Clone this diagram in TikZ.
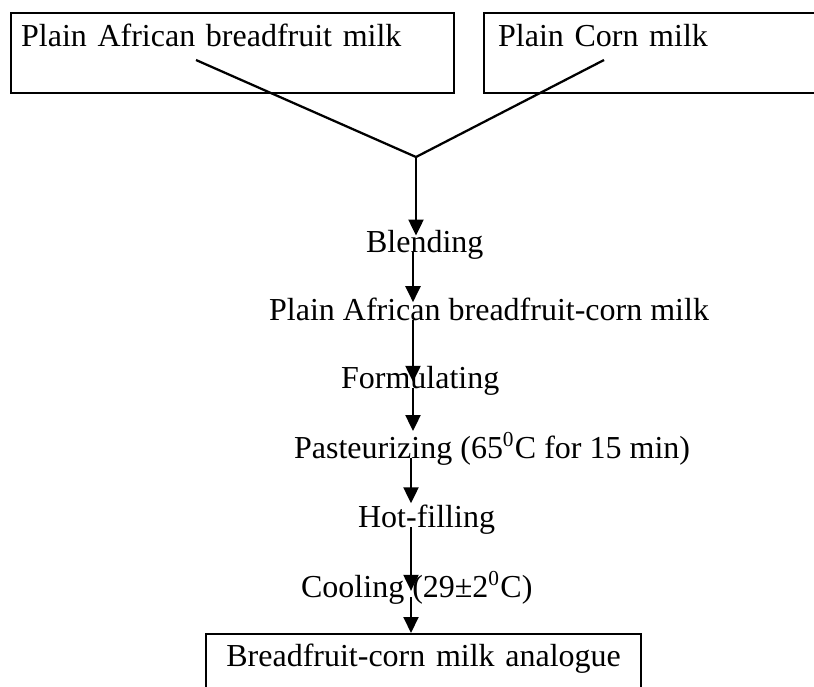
\documentclass[tikz,border=0pt]{standalone}
\usepackage{fontspec}
\setmainfont{Liberation Serif}
\usetikzlibrary{arrows.meta}
\tikzset{>={Triangle[length=6pt,width=5.6pt]}}

\begin{document}
\begin{tikzpicture}[x=0.375pt,y=-0.375pt,line width=0.85pt,
  font=\fontsize{12}{14}\selectfont,
  stage/.style={inner sep=0pt,anchor=base west},
  inbox/.style={draw,anchor=north west,align=left,inner ysep=0pt,text height=12.4pt,text depth=17.6pt}]
  \useasboundingbox (0,0) rectangle (814,686);
  \clip (0,0) rectangle (814,686);

  % Raw milks
  \node[inbox,inner xsep=3.75pt,text width=158.6pt] (fruitmilk) at (10,12) {Plain African breadfruit milk};
  \node[inbox,inner xsep=5.25pt,text width=140pt] (cornmilk) at (483,12) {Plain Corn milk};
  \coordinate (fromfruit) at (196,60);
  \coordinate (fromcorn) at (604,60);
  \coordinate (join) at (416,157);
  \coordinate (spine) at (413,0);
  \coordinate (lowspine) at (411,0);

  % Process steps
  \node[stage] (blend) at (365,252) {Blending};
  \node[stage] (mixmilk) at (268,320) {Plain African breadfruit-corn milk};
  \node[stage] (formulate) at (340,388) {Formulating};
  \node[stage] (pasteurize) at (293,458) {Pasteurizing (65\textsuperscript{0}C for 15 min)};
  \node[stage] (hotfill) at (357,527) {Hot-filling};
  \node[stage] (cool) at (300,597) {Cooling (29±2\textsuperscript{0}C)};

  % Product
  \node[draw,anchor=north west,inner xsep=0pt,inner ysep=0pt,align=center,text width=163.1pt,
    text height=12pt,text depth=20pt] (analogue) at (205,633) {Breadfruit-corn milk analogue};

  % Flow
  \draw (fromfruit) -- (join) -- (fromcorn);
  \draw[->,shorten >=-2.6pt] (join) -- (blend.north -| join);
  \draw[->,shorten >=-2.2pt] (blend.base -| spine) -- (mixmilk.north -| spine);
  \draw[->] (mixmilk.base -| spine) -- (formulate.mid -| spine);
  \draw[->] (formulate.base -| spine) -- (pasteurize.north -| spine);
  \draw[->] (pasteurize.base -| lowspine) -- (hotfill.north -| lowspine);
  \draw[->] (hotfill.base -| lowspine) -- (cool.mid -| lowspine);
  \draw[->] (cool.base -| lowspine) -- (analogue.north -| lowspine);
\end{tikzpicture}
\end{document}
